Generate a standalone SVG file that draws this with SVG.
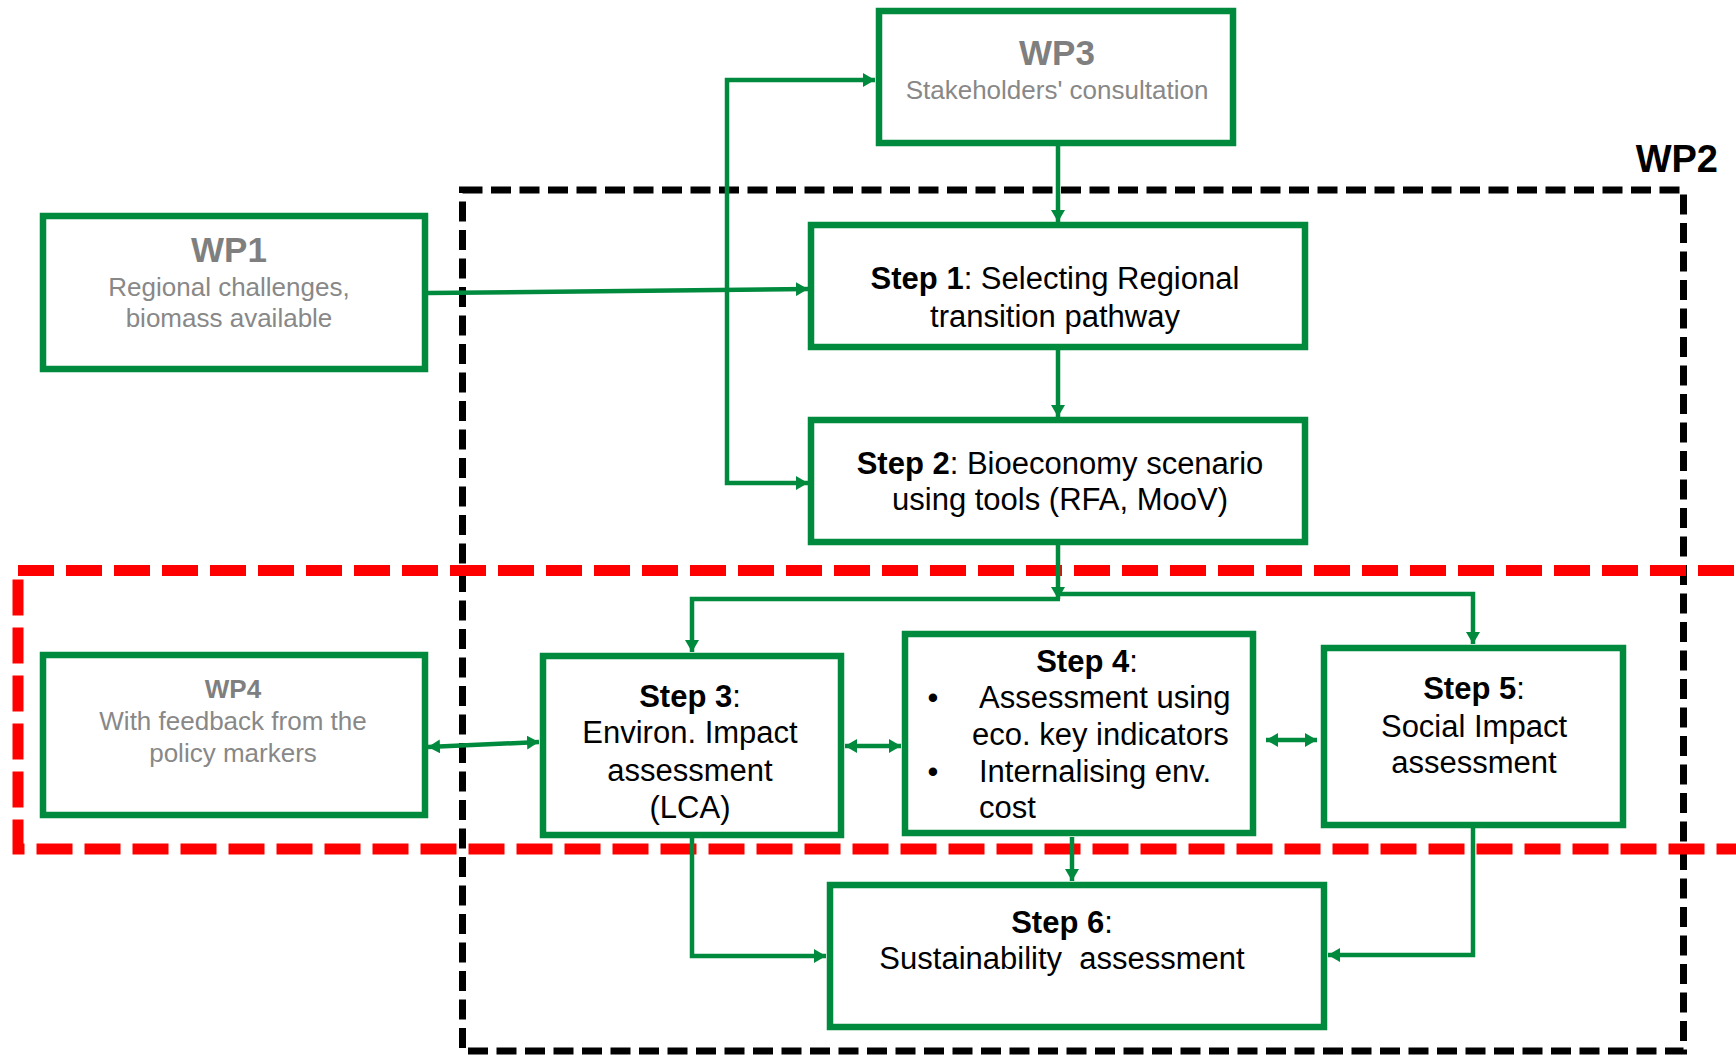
<svg xmlns="http://www.w3.org/2000/svg" width="1736" height="1055" viewBox="0 0 1736 1055">
<style>
.box{fill:#fff;stroke:#008a3e;stroke-width:6.5}
.con{fill:none;stroke:#008a3e;stroke-width:4.5}
.t{font-family:"Liberation Sans",Arial,Helvetica,sans-serif;font-size:31px;fill:#000}
.c{text-anchor:middle}
.b{font-weight:bold}
.wpt{font-family:"Liberation Sans",Arial,Helvetica,sans-serif;font-weight:bold;fill:#7f7f7f;text-anchor:middle}
.wps{font-family:"Liberation Sans",Arial,Helvetica,sans-serif;font-size:26px;fill:#888;text-anchor:middle}
</style>
<defs>
<marker id="ah" viewBox="0 0 12 14" refX="12" refY="7" markerWidth="12" markerHeight="14" markerUnits="userSpaceOnUse" orient="auto-start-reverse">
<path d="M0,0 L12,7 L0,14 z" fill="#008a3e"/>
</marker>
</defs>
<rect width="1736" height="1055" fill="#fff"/>
<g id="frames">
<rect id="wp2-frame" x="462.5" y="190" width="1221" height="861" fill="none" stroke="#000" stroke-width="7" stroke-dasharray="20 8.5"/>
<rect id="red-frame" x="18" y="570.5" width="1760" height="278.5" fill="none" stroke="#ff0000" stroke-width="11" stroke-dasharray="36 12"/>
<text x="1718" y="172" class="t b" style="font-size:38px;text-anchor:end">WP2</text>
</g>
<g id="connectors">
<path class="con" d="M1058,146 V222" marker-end="url(#ah)"/>
<path class="con" d="M428,293 L808,289" marker-end="url(#ah)"/>
<path class="con" d="M875,80 H727 V483 H808" marker-start="url(#ah)" marker-end="url(#ah)"/>
<path class="con" d="M1058,350 V417" marker-end="url(#ah)"/>
<path class="con" d="M1058,545 V599" marker-end="url(#ah)"/>
<path class="con" d="M1060,599 H692 V652" marker-end="url(#ah)"/>
<path class="con" d="M1058,594 H1473 V644" marker-end="url(#ah)"/>
<path class="con" d="M428,747 L539,742" marker-start="url(#ah)" marker-end="url(#ah)"/>
<path class="con" d="M845,746 L901,746" marker-start="url(#ah)" marker-end="url(#ah)"/>
<path class="con" d="M1266,740 L1317,740" marker-start="url(#ah)" marker-end="url(#ah)"/>
<path class="con" d="M1072,837 V881" marker-end="url(#ah)"/>
<path class="con" d="M692,838 V956 H826" marker-end="url(#ah)"/>
<path class="con" d="M1473,828 V955 H1328" marker-end="url(#ah)"/>
</g>
<g id="wp3">
<rect class="box" x="879" y="11" width="354" height="132"/>
<text x="1057" y="65" class="wpt" style="font-size:35px">WP3</text>
<text x="1057" y="99" class="wps">Stakeholders' consultation</text>
</g>
<g id="wp1">
<rect class="box" x="43" y="216" width="382" height="153"/>
<text x="229" y="262" class="wpt" style="font-size:35px">WP1</text>
<text x="229" y="296" class="wps">Regional challenges,</text>
<text x="229" y="327" class="wps">biomass available</text>
</g>
<g id="wp4">
<rect class="box" x="43" y="655" width="382" height="160"/>
<text x="233" y="698" class="wpt" style="font-size:26px">WP4</text>
<text x="233" y="730" class="wps">With feedback from the</text>
<text x="233" y="762" class="wps">policy markers</text>
</g>
<g id="step1">
<rect class="box" x="811" y="225" width="494" height="122"/>
<text x="1055" y="289" class="t c"><tspan class="b">Step 1</tspan>: Selecting Regional</text>
<text x="1055" y="327" class="t c">transition pathway</text>
</g>
<g id="step2">
<rect class="box" x="811" y="420" width="494" height="122"/>
<text x="1060" y="474" class="t c"><tspan class="b">Step 2</tspan>: Bioeconomy scenario</text>
<text x="1060" y="510" class="t c">using tools (RFA, MooV)</text>
</g>
<g id="step3">
<rect class="box" x="543" y="656" width="298" height="179"/>
<text x="690" y="707" class="t c"><tspan class="b">Step 3</tspan>:</text>
<text x="690" y="743" class="t c">Environ. Impact</text>
<text x="690" y="781" class="t c">assessment</text>
<text x="690" y="818" class="t c">(LCA)</text>
</g>
<g id="step4">
<rect class="box" x="905" y="634" width="348" height="199"/>
<text x="1087" y="672" class="t c"><tspan class="b">Step 4</tspan>:</text>
<text x="933" y="708" class="t c">•</text>
<text x="979" y="708" class="t">Assessment using</text>
<text x="972" y="745" class="t">eco. key indicators</text>
<text x="933" y="782" class="t c">•</text>
<text x="979" y="782" class="t">Internalising env.</text>
<text x="979" y="818" class="t">cost</text>
</g>
<g id="step5">
<rect class="box" x="1324" y="648" width="299" height="177"/>
<text x="1474" y="699" class="t c"><tspan class="b">Step 5</tspan>:</text>
<text x="1474" y="737" class="t c">Social Impact</text>
<text x="1474" y="773" class="t c">assessment</text>
</g>
<g id="step6">
<rect class="box" x="830" y="885" width="494" height="142"/>
<text x="1062" y="933" class="t c"><tspan class="b">Step 6</tspan>:</text>
<text x="1062" y="969" class="t c">Sustainability&#160; assessment</text>
</g>
</svg>
